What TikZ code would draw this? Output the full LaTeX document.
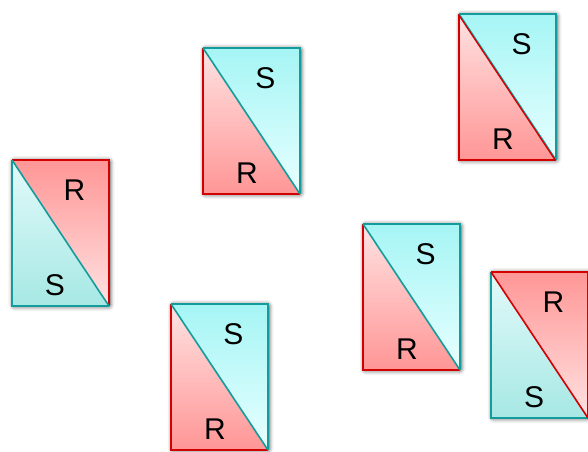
\documentclass[tikz,border=0pt]{standalone}
\usepackage{fontspec}
\setmainfont{Liberation Sans}
\usetikzlibrary{shadows.blur}
\definecolor{redD}{RGB}{255,150,150}
\definecolor{redL}{RGB}{255,226,226}
\definecolor{redB}{RGB}{210,0,0}
\definecolor{tealD}{RGB}{166,232,228}
\definecolor{tealL}{RGB}{226,250,250}
\definecolor{cyanD}{RGB}{166,245,245}
\definecolor{cyanL}{RGB}{232,255,255}
\definecolor{tealB}{RGB}{20,155,155}
\tikzset{
  edge/.style={line width=1.6pt},
  lab/.style={inner sep=0pt,font=\fontsize{30}{30}\selectfont},
  cardshadow/.style={blur shadow={shadow xshift=1pt,shadow yshift=-0.5pt,shadow blur radius=4.5pt,shadow blur extra rounding=1.5pt,shadow opacity=75}}
}
% red triangle top-right, teal bottom-left
\newcommand\cardRtop[4]{%
\begin{scope}[shift={(#1,-#2)}]
 \path[cardshadow,fill=white] (0,0) rectangle (97,-146);
 \fill[top color=redD, bottom color=redL] (0,0) -- (97,0) -- (97,-146) -- cycle;
 \fill[top color=tealL, bottom color=tealD] (0,0) -- (0,-146) -- (97,-146) -- cycle;
 \draw[edge,redB] (0,0) -- (97,0) -- (97,-146);
 \draw[edge,tealB] (0,0) -- (0,-146) -- (97,-146);
 \draw[edge,#3] (0,0) -- (97,-146);
 \node[lab] (r#4) at (62.5,-30.5) {R};
 \node[lab] (s#4) at (43,-125.5) {S};
\end{scope}}
% cyan triangle top-right, red bottom-left
\newcommand\cardStop[4]{%
\begin{scope}[shift={(#1,-#2)}]
 \path[cardshadow,fill=white] (0,0) rectangle (97,-146);
 \fill[top color=cyanD, bottom color=cyanL] (0,0) -- (97,0) -- (97,-146) -- cycle;
 \fill[top color=redL, bottom color=redD] (0,0) -- (0,-146) -- (97,-146) -- cycle;
 \draw[edge,tealB] (0,0) -- (97,0) -- (97,-146);
 \draw[edge,redB] (0,0) -- (0,-146) -- (97,-146);
 \draw[edge,tealB] (0,0) -- (97,-146);
 #3
 \node[lab] (s#4) at (62.5,-30.5) {S};
 \node[lab] (r#4) at (44,-125.5) {R};
\end{scope}}
\begin{document}
\begin{tikzpicture}[x=1pt,y=1pt]
\useasboundingbox (0,0) rectangle (588,-451);
\cardRtop{12}{160}{tealB}{1}
\cardStop{203}{48}{}{2}
\cardStop{459}{14}{\draw[line width=1.3pt,redB] (-0.6,-0.4) -- (96.4,-146.4);}{3}
\cardRtop{491}{272}{redB}{4}
\cardStop{363}{224}{}{5}
\cardStop{171}{304}{}{6}
\end{tikzpicture}
\end{document}
